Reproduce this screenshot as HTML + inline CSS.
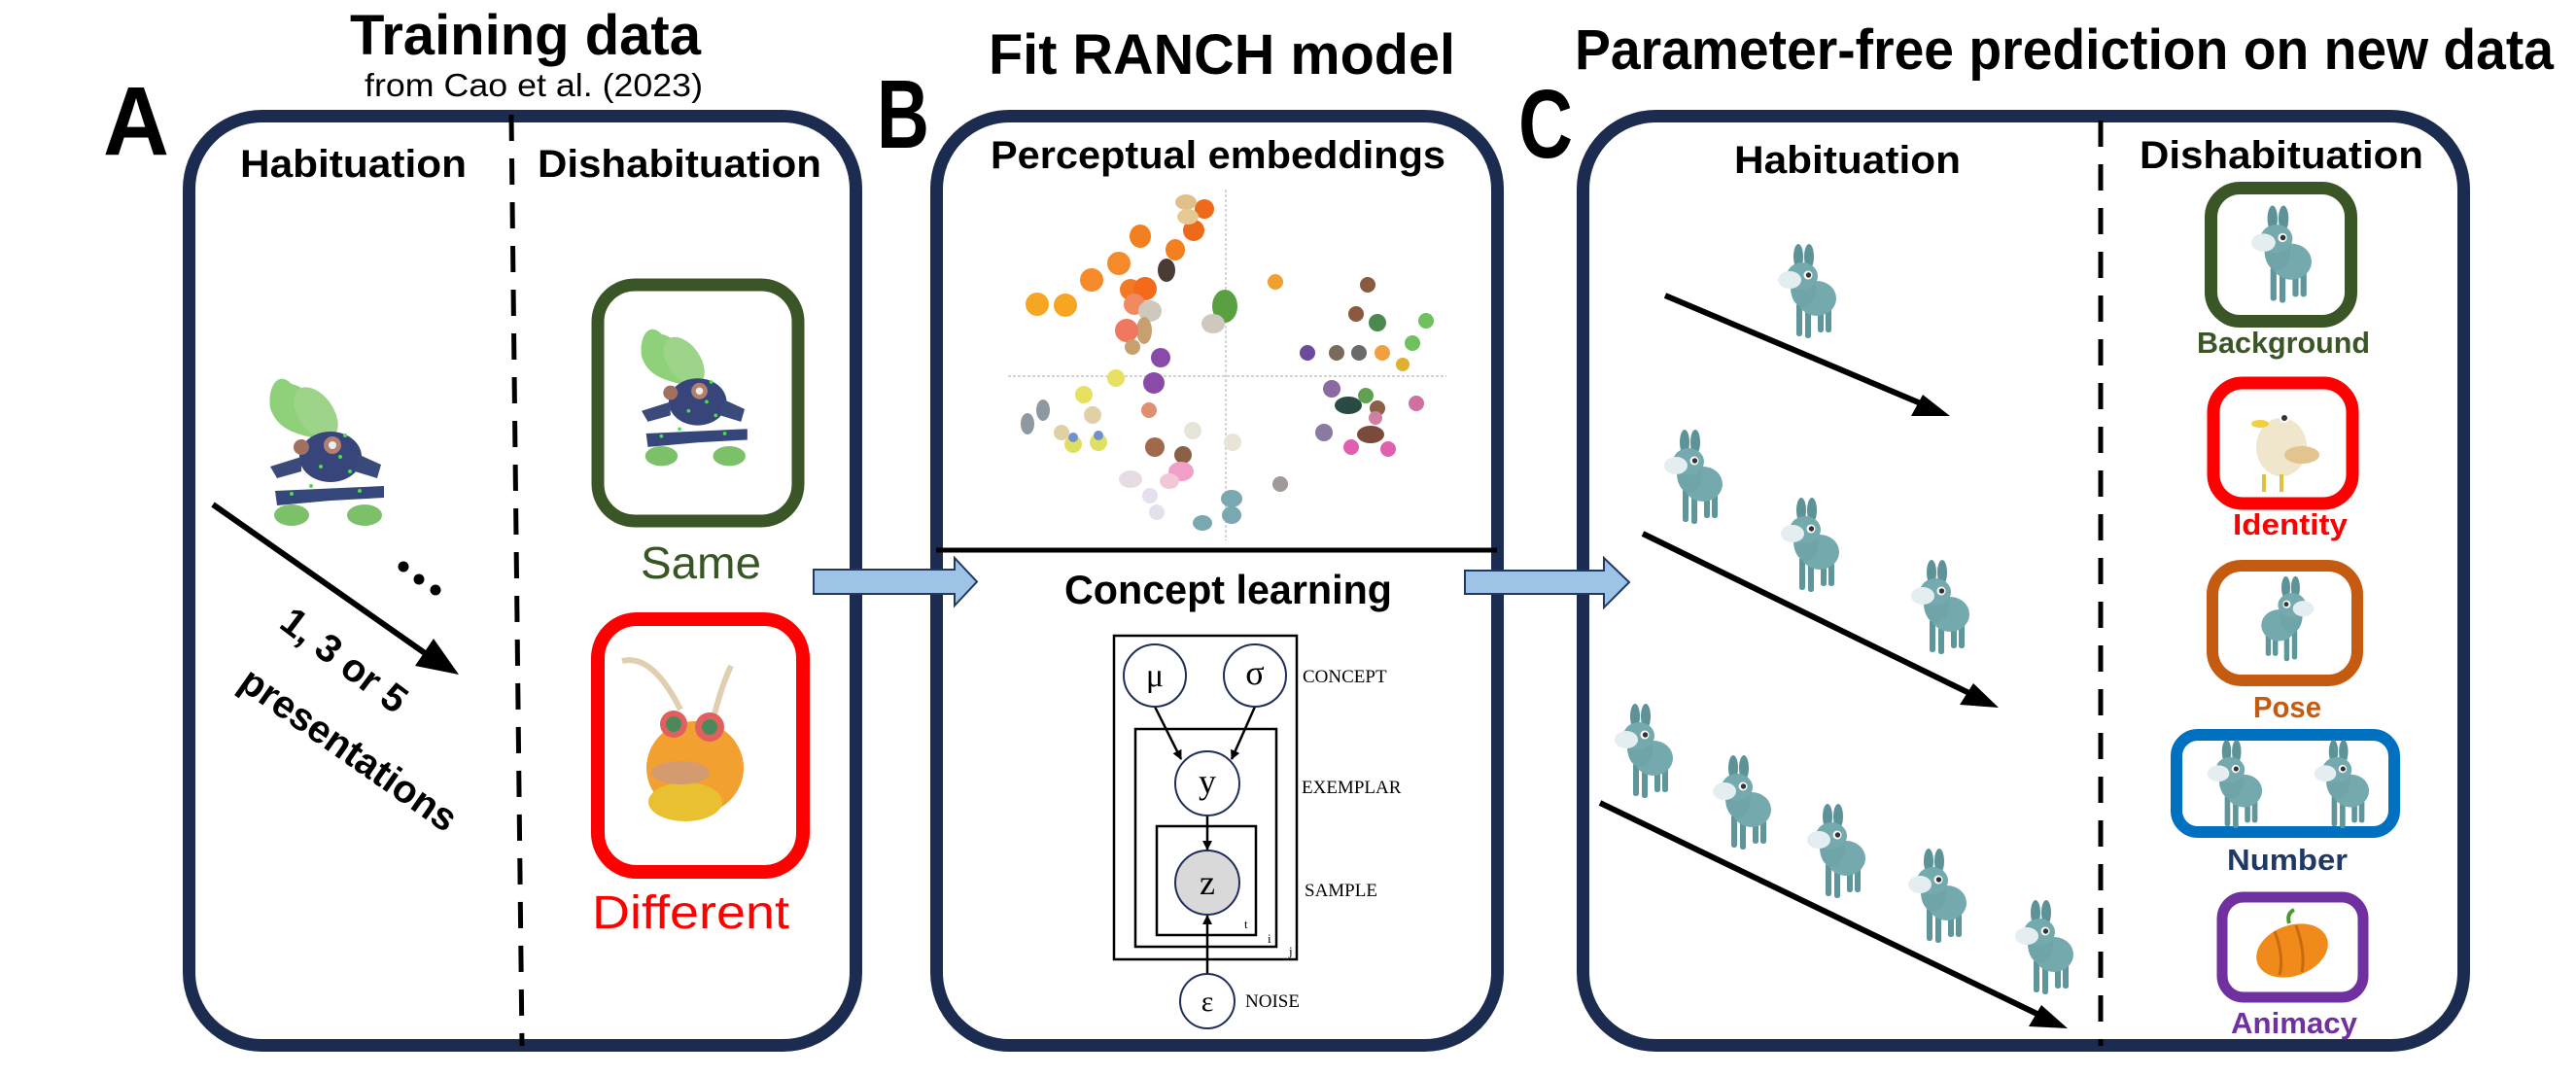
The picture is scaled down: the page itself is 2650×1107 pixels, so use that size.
<!DOCTYPE html>
<html><head><meta charset="utf-8"><style>
html,body{margin:0;padding:0;background:#fff;}
svg{display:block;}
.b{font-family:"Liberation Sans",sans-serif;font-weight:bold;}
.s{font-family:"Liberation Serif",serif;}
</style></head><body>
<svg width="2650" height="1107" viewBox="0 0 2650 1107" xmlns="http://www.w3.org/2000/svg">
<defs>
<symbol id="dk" viewBox="0 0 64 100">
 <ellipse cx="24" cy="14" rx="5" ry="13" fill="#5d9398"/>
 <ellipse cx="35" cy="14" rx="5" ry="13" fill="#5d9398"/>
 <rect x="22" y="62" width="6" height="34" rx="2.5" fill="#5f969b"/>
 <rect x="31" y="64" width="6" height="34" rx="2.5" fill="#5f969b"/>
 <rect x="44" y="62" width="6" height="30" rx="2.5" fill="#5f969b"/>
 <rect x="52" y="60" width="6" height="32" rx="2.5" fill="#5f969b"/>
 <ellipse cx="43" cy="57" rx="20" ry="18" fill="#74a9ae"/>
 <ellipse cx="29" cy="46" rx="13" ry="20" fill="#6fa4a9"/>
 <ellipse cx="28" cy="34" rx="16" ry="14" fill="#74a9ae"/>
 <ellipse cx="15" cy="38" rx="12" ry="9" fill="#e4eef0"/>
 <circle cx="34" cy="33" r="4.5" fill="#fff"/><circle cx="34.5" cy="33" r="2.7" fill="#333"/>
</symbol>
<marker id="ah" viewBox="0 0 10 10" refX="9" refY="5" markerWidth="4" markerHeight="4" orient="auto"><path d="M0,0L10,5L0,10z" fill="#000"/></marker>
<g id="frogdef">
 <path d="M300,395 C285,380 275,400 278,420 C285,440 300,445 320,450 L335,445 C330,420 320,400 300,395z" fill="#8fd07a"/>
 <ellipse cx="325" cy="425" rx="18" ry="30" fill="#9dd48a" transform="rotate(-35 325 425)"/>
 <ellipse cx="340" cy="470" rx="32" ry="26" fill="#38457a"/>
 <path d="M278,480 L310,470 L310,485 L285,492z" fill="#3a4a7a"/>
 <path d="M370,468 L392,478 L388,492 L365,485z" fill="#3a4a7a"/>
 <path d="M283,505 L395,500 L395,512 L340,515 L285,520z" fill="#35467a"/>
 <ellipse cx="300" cy="530" rx="18" ry="11" fill="#7dc06a"/>
 <ellipse cx="375" cy="530" rx="18" ry="11" fill="#7dc06a"/>
 <circle cx="310" cy="460" r="8" fill="#a07060"/><circle cx="342" cy="458" r="9" fill="#b08070"/><circle cx="342" cy="458" r="4" fill="#eee"/>
 <g fill="#4ae04a"><circle cx="330" cy="480" r="2"/><circle cx="350" cy="470" r="2"/><circle cx="360" cy="485" r="2"/><circle cx="320" cy="500" r="2"/><circle cx="370" cy="505" r="2"/><circle cx="300" cy="508" r="2"/><circle cx="355" cy="448" r="2"/></g>
</g>
</defs>

<!-- Titles -->
<text class="b" x="360" y="56" font-size="58" textLength="361" lengthAdjust="spacingAndGlyphs">Training data</text>
<text font-family="Liberation Sans,sans-serif" x="375" y="99" font-size="33" textLength="348" lengthAdjust="spacingAndGlyphs">from Cao et al. (2023)</text>
<text class="b" x="1017" y="76" font-size="58" textLength="480" lengthAdjust="spacingAndGlyphs">Fit RANCH model</text>
<text class="b" x="1620" y="71" font-size="58" textLength="1007" lengthAdjust="spacingAndGlyphs">Parameter-free prediction on new data</text>
<text class="b" x="106" y="159" font-size="100" textLength="68" lengthAdjust="spacingAndGlyphs">A</text>
<text class="b" x="902" y="152" font-size="100" textLength="54" lengthAdjust="spacingAndGlyphs">B</text>
<text class="b" x="1562" y="162" font-size="100" textLength="56" lengthAdjust="spacingAndGlyphs">C</text>

<!-- Panel boxes -->
<rect x="194.5" y="119.5" width="686" height="956" rx="75" fill="none" stroke="#1b2c50" stroke-width="13"/>
<rect x="963.5" y="119.5" width="577" height="956" rx="75" fill="none" stroke="#1b2c50" stroke-width="13"/>
<rect x="1628.5" y="119.5" width="906" height="956" rx="75" fill="none" stroke="#1b2c50" stroke-width="13"/>

<!-- Panel A -->
<line x1="526" y1="118" x2="537" y2="1076" stroke="#000" stroke-width="5" stroke-dasharray="27 18"/>
<text class="b" x="247" y="182" font-size="40" textLength="233" lengthAdjust="spacingAndGlyphs">Habituation</text>
<text class="b" x="553" y="182" font-size="40" textLength="292" lengthAdjust="spacingAndGlyphs">Dishabituation</text>

<use href="#frogdef"/>

<!-- arrow A -->
<line x1="219" y1="519" x2="440" y2="674" stroke="#000" stroke-width="6"/>
<polygon points="472,694 427,685 446,657" fill="#000"/>
<circle cx="415" cy="583" r="5.5"/><circle cx="431" cy="596" r="5.5"/><circle cx="448" cy="607" r="5.5"/>
<text class="b" font-size="40" transform="translate(346,690) rotate(37)" text-anchor="middle">1, 3 or 5</text>
<text class="b" font-size="40" transform="translate(351,782) rotate(35)" text-anchor="middle">presentations</text>

<!-- Same / Different boxes -->
<rect x="615" y="293" width="206" height="243" rx="38" fill="none" stroke="#3b5626" stroke-width="13"/>
<use href="#frogdef" transform="translate(660,339) scale(0.93) translate(-278,-390)"/>
<text font-family="Liberation Sans,sans-serif" x="659" y="595" font-size="46" fill="#375623" textLength="124" lengthAdjust="spacingAndGlyphs">Same</text>
<rect x="615" y="637" width="211" height="260" rx="40" fill="none" stroke="#ff0000" stroke-width="14"/>
<g>
 <path d="M640,680 C660,675 680,690 700,730" stroke="#e0cfb0" stroke-width="6" fill="none"/>
 <path d="M752,685 C745,700 740,715 735,735" stroke="#e0cfb0" stroke-width="6" fill="none"/>
 <ellipse cx="715" cy="790" rx="50" ry="48" fill="#f2a030"/>
 <ellipse cx="705" cy="825" rx="38" ry="20" fill="#e8c030"/>
 <ellipse cx="700" cy="795" rx="30" ry="12" fill="#d49a70"/>
 <circle cx="693" cy="745" r="14" fill="#e06060"/><circle cx="693" cy="745" r="8" fill="#4a8a5a"/>
 <circle cx="730" cy="748" r="15" fill="#e06060"/><circle cx="730" cy="748" r="8" fill="#4a8a5a"/>
</g>
<text font-family="Liberation Sans,sans-serif" x="609" y="955" font-size="48" fill="#ff0000" textLength="203" lengthAdjust="spacingAndGlyphs">Different</text>

<!-- block arrows -->
<polygon points="837,586 982,586 982,574 1005,598.5 982,623 982,611 837,611" fill="#9dc3e6" stroke="#1f3864" stroke-width="2"/>
<polygon points="1507,587 1650,587 1650,574 1676,599 1650,625 1650,611 1507,611" fill="#9dc3e6" stroke="#1f3864" stroke-width="2"/>

<!-- Panel B -->
<text class="b" x="1019" y="173" font-size="40" textLength="468" lengthAdjust="spacingAndGlyphs">Perceptual embeddings</text>
<line x1="1261" y1="195" x2="1261" y2="556" stroke="#bbb" stroke-width="1.2" stroke-dasharray="3 2"/>
<line x1="1037" y1="387" x2="1488" y2="387" stroke="#bbb" stroke-width="1.2" stroke-dasharray="3 2"/>
<g>
 <circle cx="1067" cy="313" r="12" fill="#f6a623"/><circle cx="1096" cy="314" r="12" fill="#f6a623"/>
 <circle cx="1123" cy="288" r="12" fill="#f58a2a"/><circle cx="1151" cy="271" r="12" fill="#f58a2a"/>
 <ellipse cx="1173" cy="243" rx="11" ry="12" fill="#f28020"/><ellipse cx="1209" cy="257" rx="10" ry="11" fill="#f28020"/>
 <circle cx="1239" cy="215" r="10" fill="#ee6a1a"/><circle cx="1228" cy="237" r="11" fill="#ee6a1a"/>
 <ellipse cx="1220" cy="208" rx="11" ry="8" fill="#e0c08a"/><ellipse cx="1222" cy="223" rx="11" ry="8" fill="#e6c890"/>
 <ellipse cx="1200" cy="278" rx="9" ry="12" fill="#4a3b35"/>
 <circle cx="1163" cy="298" r="11" fill="#f27a22"/><circle cx="1178" cy="297" r="12" fill="#f26a1a"/>
 <circle cx="1167" cy="313" r="11" fill="#f08a60"/><ellipse cx="1183" cy="320" rx="12" ry="11" fill="#cfc8bc"/>
 <ellipse cx="1177" cy="340" rx="8" ry="14" fill="#c8a070"/><circle cx="1159" cy="340" r="12" fill="#f07860"/>
 <ellipse cx="1165" cy="357" rx="8" ry="8" fill="#c8a070"/>
 <ellipse cx="1260" cy="315" rx="13" ry="17" fill="#5aa040"/><ellipse cx="1248" cy="333" rx="12" ry="10" fill="#cfc8bc"/>
 <circle cx="1194" cy="368" r="10" fill="#8a4aa8"/><circle cx="1187" cy="394" r="11" fill="#8a4aa8"/>
 <circle cx="1148" cy="389" r="9" fill="#e8e060"/><circle cx="1115" cy="406" r="9" fill="#e8e060"/>
 <circle cx="1124" cy="427" r="9" fill="#e0d0a8"/><ellipse cx="1073" cy="422" rx="7" ry="11" fill="#8e98a0"/>
 <ellipse cx="1057" cy="436" rx="7" ry="11" fill="#8e98a0"/><circle cx="1092" cy="445" r="8" fill="#e0d0a8"/>
 <circle cx="1104" cy="457" r="9" fill="#e0e060"/><circle cx="1104" cy="450" r="5" fill="#7090d0"/>
 <circle cx="1130" cy="455" r="9" fill="#e0e060"/><circle cx="1130" cy="448" r="5" fill="#7090d0"/>
 <circle cx="1182" cy="422" r="8" fill="#e09070"/><circle cx="1227" cy="443" r="9" fill="#e8e4d8"/>
 <circle cx="1268" cy="455" r="9" fill="#e8e4d8"/><circle cx="1188" cy="460" r="10" fill="#a06a4a"/>
 <circle cx="1217" cy="468" r="9" fill="#8a6048"/><ellipse cx="1215" cy="485" rx="13" ry="10" fill="#f0a0c8"/>
 <ellipse cx="1203" cy="495" rx="10" ry="8" fill="#f0c8d8"/><ellipse cx="1163" cy="493" rx="12" ry="9" fill="#e8dce4"/>
 <circle cx="1183" cy="510" r="8" fill="#e4e0ec"/><circle cx="1190" cy="527" r="8" fill="#e4e0ec"/>
 <ellipse cx="1267" cy="513" rx="11" ry="9" fill="#7aa8b0"/><ellipse cx="1237" cy="538" rx="10" ry="8" fill="#7aa8b0"/>
 <ellipse cx="1267" cy="530" rx="10" ry="9" fill="#7aa8b0"/>
 <circle cx="1312" cy="290" r="8" fill="#f0a030"/><circle cx="1407" cy="293" r="8" fill="#8a5a40"/>
 <circle cx="1395" cy="323" r="8" fill="#8a5a40"/><circle cx="1417" cy="332" r="9" fill="#4a8a50"/>
 <circle cx="1467" cy="330" r="8" fill="#70c060"/><circle cx="1345" cy="363" r="8" fill="#6a4a9a"/>
 <circle cx="1375" cy="363" r="8" fill="#7a6a5a"/><circle cx="1398" cy="363" r="8" fill="#6a6a6a"/>
 <circle cx="1422" cy="363" r="8" fill="#f0a040"/><circle cx="1443" cy="375" r="7" fill="#e0b030"/>
 <circle cx="1453" cy="353" r="8" fill="#70c060"/><circle cx="1370" cy="400" r="9" fill="#8a6aa0"/>
 <ellipse cx="1387" cy="417" rx="14" ry="9" fill="#2a4a44"/><circle cx="1405" cy="407" r="8" fill="#60a050"/>
 <circle cx="1417" cy="420" r="8" fill="#8a6048"/><circle cx="1457" cy="415" r="8" fill="#d070a0"/>
 <circle cx="1362" cy="445" r="9" fill="#8a7aa0"/><ellipse cx="1410" cy="447" rx="14" ry="9" fill="#7a4a3a"/>
 <circle cx="1390" cy="460" r="8" fill="#e060b0"/><circle cx="1428" cy="462" r="8" fill="#e060b0"/>
 <circle cx="1415" cy="430" r="7" fill="#d080a0"/><circle cx="1317" cy="498" r="8" fill="#a09a98"/>
</g>
<line x1="963" y1="566" x2="1540" y2="566" stroke="#000" stroke-width="5"/>
<text class="b" x="1095" y="621" font-size="42" textLength="337" lengthAdjust="spacingAndGlyphs">Concept learning</text>

<!-- plate diagram -->
<rect x="1146" y="654" width="188" height="333" fill="none" stroke="#000" stroke-width="2.5"/>
<rect x="1168" y="750" width="145" height="224" fill="none" stroke="#000" stroke-width="2.5"/>
<rect x="1190" y="850" width="102" height="112" fill="none" stroke="#000" stroke-width="2.5"/>
<line x1="1188" y1="727" x2="1215" y2="781" stroke="#000" stroke-width="2.5" marker-end="url(#ah)"/>
<line x1="1291" y1="727" x2="1267" y2="781" stroke="#000" stroke-width="2.5" marker-end="url(#ah)"/>
<line x1="1242" y1="839" x2="1242" y2="874" stroke="#000" stroke-width="2.5" marker-end="url(#ah)"/>
<line x1="1242" y1="1002" x2="1242" y2="942" stroke="#000" stroke-width="2.5" marker-end="url(#ah)"/>
<circle cx="1188" cy="695" r="32" fill="#fff" stroke="#1f2d5a" stroke-width="2"/>
<circle cx="1291" cy="695" r="32" fill="#fff" stroke="#1f2d5a" stroke-width="2"/>
<circle cx="1242" cy="806" r="33" fill="#fff" stroke="#1f2d5a" stroke-width="2"/>
<circle cx="1242" cy="908" r="33" fill="#d9d9d9" stroke="#1f2d5a" stroke-width="2"/>
<circle cx="1242" cy="1030" r="28" fill="#fff" stroke="#1f2d5a" stroke-width="2"/>
<text class="s" x="1188" y="706" font-size="34" text-anchor="middle">μ</text>
<text class="s" x="1291" y="704" font-size="36" text-anchor="middle">σ</text>
<text class="s" x="1242" y="816" font-size="36" text-anchor="middle">y</text>
<text class="s" x="1242" y="920" font-size="36" text-anchor="middle">z</text>
<text class="s" x="1242" y="1040" font-size="30" text-anchor="middle">ε</text>
<text class="s" x="1280" y="955" font-size="13">t</text>
<text class="s" x="1304" y="970" font-size="13">i</text>
<text class="s" x="1326" y="983" font-size="13">j</text>
<text class="s" x="1340" y="702" font-size="19">CONCEPT</text>
<text class="s" x="1339" y="816" font-size="19">EXEMPLAR</text>
<text class="s" x="1342" y="922" font-size="19">SAMPLE</text>
<text class="s" x="1281" y="1036" font-size="19">NOISE</text>

<!-- Panel C -->
<line x1="2161" y1="124" x2="2161" y2="1076" stroke="#000" stroke-width="5" stroke-dasharray="27 18"/>
<text class="b" x="1784" y="178" font-size="40" textLength="233" lengthAdjust="spacingAndGlyphs">Habituation</text>
<text class="b" x="2201" y="173" font-size="40" textLength="292" lengthAdjust="spacingAndGlyphs">Dishabituation</text>

<g stroke="#000" stroke-width="6">
 <line x1="1713" y1="304" x2="1990" y2="421"/>
 <line x1="1690" y1="549" x2="2040" y2="720"/>
 <line x1="1646" y1="826" x2="2110" y2="1050"/>
</g>
<polygon points="2006,428 1966,428 1978,406" fill="#000"/>
<polygon points="2056,728 2016,725 2030,703" fill="#000"/>
<polygon points="2127,1058 2087,1056 2100,1034" fill="#000"/>

<g>
 <use href="#dk" x="1826" y="250" width="64" height="100"/>
 <use href="#dk" x="1709" y="441" width="64" height="100"/>
 <use href="#dk" x="1829" y="511" width="64" height="100"/>
 <use href="#dk" x="1963" y="575" width="64" height="100"/>
 <use href="#dk" x="1658" y="723" width="64" height="100"/>
 <use href="#dk" x="1759" y="776" width="64" height="100"/>
 <use href="#dk" x="1856" y="826" width="64" height="100"/>
 <use href="#dk" x="1960" y="872" width="64" height="100"/>
 <use href="#dk" x="2070" y="925" width="64" height="100"/>
</g>

<rect x="2274.5" y="193.5" width="144" height="137" rx="30" fill="none" stroke="#3b5626" stroke-width="13"/>
<use href="#dk" x="2313" y="210" width="66" height="104"/>
<text class="b" x="2349" y="363" font-size="31" fill="#3b5626" text-anchor="middle" textLength="178" lengthAdjust="spacingAndGlyphs">Background</text>

<rect x="2277" y="394" width="143" height="124" rx="30" fill="none" stroke="#ff0000" stroke-width="13"/>
<g>
 <ellipse cx="2347" cy="460" rx="26" ry="30" fill="#efe6cc"/>
 <ellipse cx="2368" cy="468" rx="18" ry="9" fill="#e2c48e"/>
 <ellipse cx="2325" cy="436" rx="9" ry="4" fill="#f0d040"/>
 <circle cx="2350" cy="430" r="5" fill="#fff"/><circle cx="2350" cy="430" r="3" fill="#333"/>
 <rect x="2327" y="488" width="4" height="18" fill="#e0c040"/><rect x="2345" y="488" width="4" height="18" fill="#e0c040"/>
</g>
<text class="b" x="2356" y="550" font-size="31" fill="#ff0000" text-anchor="middle" textLength="118" lengthAdjust="spacingAndGlyphs">Identity</text>

<rect x="2276" y="582" width="149" height="118" rx="30" fill="none" stroke="#c55a11" stroke-width="12"/>
<use href="#dk" transform="translate(2383,592) scale(-0.9,0.9)" width="64" height="100"/>
<text class="b" x="2353" y="738" font-size="31" fill="#c55a11" text-anchor="middle" textLength="70" lengthAdjust="spacingAndGlyphs">Pose</text>

<rect x="2239" y="756" width="224" height="100" rx="22" fill="none" stroke="#0070c0" stroke-width="12"/>
<use href="#dk" x="2268" y="760" width="60" height="94"/>
<use href="#dk" x="2378" y="760" width="60" height="94"/>
<text class="b" x="2353" y="895" font-size="31" fill="#1f3864" text-anchor="middle" textLength="124" lengthAdjust="spacingAndGlyphs">Number</text>

<rect x="2286" y="923" width="145" height="103" rx="22" fill="none" stroke="#7030a0" stroke-width="11"/>
<g>
 <path d="M2355,950 Q2352,940 2360,936" stroke="#4a9a30" stroke-width="4" fill="none"/>
 <ellipse cx="2358" cy="978" rx="38" ry="26" fill="#f08a1a" transform="rotate(-20 2358 978)"/>
 <path d="M2340,958 Q2350,985 2345,1003" stroke="#c86a10" stroke-width="3" fill="none"/>
 <path d="M2362,952 Q2372,980 2368,1000" stroke="#c86a10" stroke-width="3" fill="none"/>
</g>
<text class="b" x="2360" y="1063" font-size="31" fill="#7030a0" text-anchor="middle" textLength="130" lengthAdjust="spacingAndGlyphs">Animacy</text>
</svg>
</body></html>
